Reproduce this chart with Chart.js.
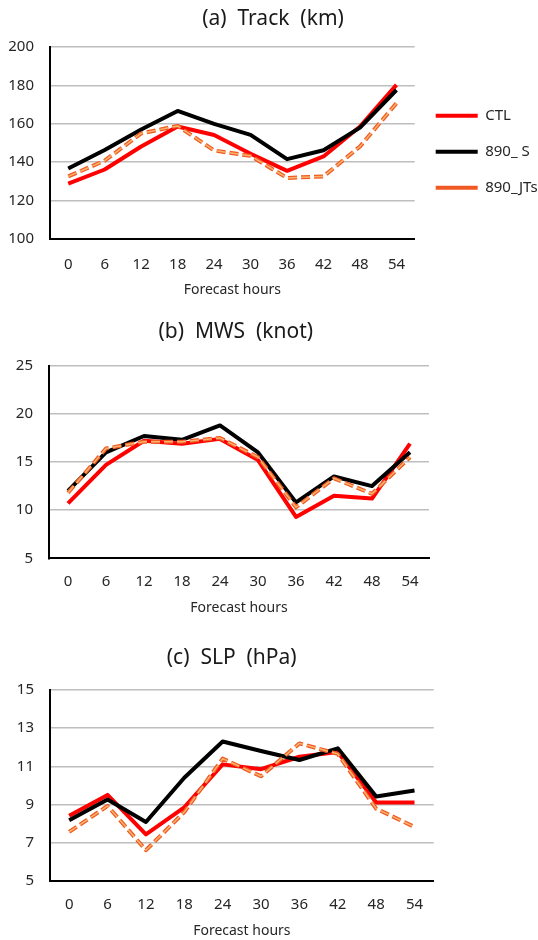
<!DOCTYPE html>
<html>
<head>
<meta charset="utf-8">
<script src="https://cdn.jsdelivr.net/npm/chart.js@4.4.0/dist/chart.umd.min.js"></script>
<style>
  html, body { margin: 0; padding: 0; background: #fff; }
  body { width: 538px; height: 940px; position: relative; overflow: hidden; }
  canvas { position: absolute; left: 0; }
</style>
</head>
<body>
<canvas id="chartA" width="538" height="300" style="top:0px"></canvas>
<canvas id="chartB" width="538" height="320" style="top:300px"></canvas>
<canvas id="chartC" width="538" height="320" style="top:620px"></canvas>
<script>
// forecast lead times and experiment names
const hours = ['0', '6', '12', '18', '24', '30', '36', '42', '48', '54'];
const seriesNames = ['CTL', '890_ S', '890_JTs'];

// (a) track error (km)
const trackTicks = [100, 120, 140, 160, 180, 200];
const trackCtl = [128.8, 136.2, 148.2, 158.6, 154.2, 144.4, 135.5, 143.0, 158.6, 180.3];
const trackS   = [136.7, 146.4, 157.0, 166.7, 160.0, 154.2, 141.6, 146.2, 158.0, 177.6];
const trackJts = [132.6, 140.8, 155.0, 158.9, 146.1, 143.3, 131.8, 132.6, 148.2, 170.7];

// (b) max wind speed error (knot)
const mwsTicks = [5, 10, 15, 20, 25];
const mwsCtl = [10.7, 14.7, 17.2, 16.9, 17.4, 15.2, 9.3, 11.5, 11.2, 16.9];
const mwsS   = [12.0, 16.0, 17.7, 17.3, 18.8, 16.0, 10.8, 13.5, 12.5, 16.0];
const mwsJts = [11.8, 16.4, 17.1, 17.1, 17.5, 15.5, 10.3, 13.3, 11.7, 15.5];

// (c) sea level pressure error (hPa)
const slpTicks = [5, 7, 9, 11, 13, 15];
const slpCtl = [8.40, 9.50, 7.43, 8.85, 11.10, 10.85, 11.50, 11.75, 9.10, 9.10];
const slpS   = [8.17, 9.26, 8.08, 10.40, 12.30, 11.80, 11.33, 11.94, 9.42, 9.73];
const slpJts = [7.56, 8.92, 6.60, 8.60, 11.40, 10.48, 12.20, 11.65, 8.78, 7.82];

Chart.defaults.font.family = "'Noto Sans', sans-serif";
const textColor = '#262626';

function makePanel(id, title, ticks, ctl, s, jts, box) {
    const dash = [9, 4];
    return new Chart(document.getElementById(id), {
        type: 'line',
        data: {
            labels: hours,
            datasets: [
                { label: seriesNames[0], data: ctl, borderColor: '#FF0000', borderWidth: 4, order: 4 },
                { label: seriesNames[1], data: s, borderColor: '#000000', borderWidth: 4, order: 3 },
                { label: seriesNames[2], data: jts, borderColor: '#F05A22', borderWidth: 4, borderDash: dash, order: 2 },
                // light core of the dashed line
                { label: seriesNames[2], data: jts, borderColor: '#FAB36E', borderWidth: 1.5, borderDash: dash, order: 1 }
            ]
        },
        options: {
            responsive: false,
            animation: false,
            layout: { padding: box.padding },
            elements: {
                point: { radius: 0, hoverRadius: 0 },
                line: { tension: 0, fill: false, borderJoinStyle: 'round' }
            },
            plugins: {
                tooltip: { enabled: false },
                title: {
                    display: true,
                    text: title,
                    color: '#1a1a1a',
                    font: { size: 21, weight: 'normal' },
                    padding: box.titlePad
                },
                legend: {
                    display: box.legend,
                    position: 'right',
                    align: 'start',
                    fullSize: false,
                    maxWidth: 123.3,
                    title: { display: true, text: '', font: { size: 12 }, padding: { top: 0, bottom: 25.8 } },
                    labels: {
                        usePointStyle: true,
                        pointStyle: 'line',
                        pointStyleWidth: 42,
                        padding: 21,
                        color: textColor,
                        font: { size: 15 },
                        filter: item => item.datasetIndex < 3,
                        sort: (a, b) => a.datasetIndex - b.datasetIndex
                    }
                }
            },
            scales: {
                x: {
                    offset: true,
                    grid: { display: false, drawTicks: false },
                    border: { display: true, color: '#000', width: 2 },
                    ticks: { color: textColor, font: { size: 15 }, padding: box.tickPad, maxRotation: 0 },
                    title: {
                        display: true,
                        text: 'Forecast hours',
                        color: textColor,
                        font: { size: 14 },
                        padding: { top: 0, bottom: 0 }
                    },
                    afterFit: axis => { axis.height = box.xHeight; }
                },
                y: {
                    min: ticks[0],
                    max: ticks[ticks.length - 1],
                    grid: {
                        drawTicks: false,
                        lineWidth: 1.5,
                        color: c => c.index === 0 ? 'rgba(0,0,0,0)' : '#BEBEBE'
                    },
                    border: { display: true, color: '#000', width: 2 },
                    ticks: {
                        stepSize: ticks[1] - ticks[0],
                        color: textColor,
                        font: { size: 15 },
                        padding: 16
                    },
                    afterFit: axis => { axis.width = box.yWidth; }
                },
                // empty spacer on the right so the title sits where it does in the figure
                spacer: {
                    type: 'linear',
                    display: box.spacer > 0,
                    position: 'right',
                    grid: { display: false, drawTicks: false },
                    border: { display: false },
                    ticks: { display: false },
                    afterFit: axis => { axis.width = box.spacer; }
                }
            }
        }
    });
}

makePanel('chartA', '(a)  Track  (km)', trackTicks, trackCtl, trackS, trackJts, {
    padding: { left: 8, right: 0, top: 0, bottom: 1.6 },
    titlePad: { top: 6.4, bottom: 15.4 },
    yWidth: 42, xHeight: 59.4, tickPad: 16.3, legend: true, spacer: 0
});

makePanel('chartB', '(b)  MWS  (knot)', mwsTicks, mwsCtl, mwsS, mwsJts, {
    padding: { left: 4, right: 70.4, top: 0, bottom: 3.3 },
    titlePad: { top: 19.4, bottom: 21.1 },
    yWidth: 45, xHeight: 58.4, tickPad: 14.4, legend: false, spacer: 38.6
});

makePanel('chartC', '(c)  SLP  (hPa)', slpTicks, slpCtl, slpS, slpJts, {
    padding: { left: 5, right: 79.6, top: 0, bottom: 0.6 },
    titlePad: { top: 25.1, bottom: 19.7 },
    yWidth: 45, xHeight: 58.7, tickPad: 15.3, legend: false, spacer: 24.7
});
</script>
</body>
</html>
